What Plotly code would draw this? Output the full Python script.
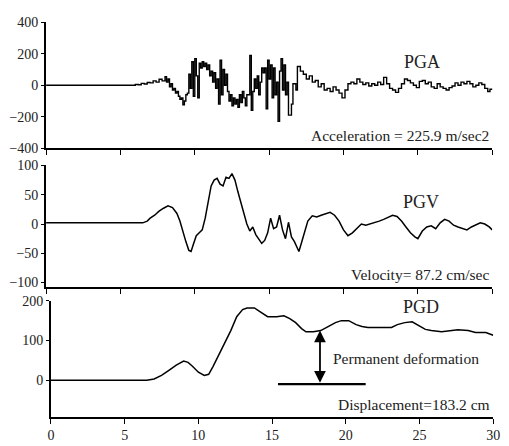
import plotly.graph_objects as go

# ---------------- data ----------------
acc_t = [0, 5.8, 6.0, 6.2, 6.4, 6.6, 6.8, 7.0, 7.2, 7.4, 7.6, 7.8, 8.0, 8.1, 8.2, 8.3, 8.4, 8.5, 8.6, 8.7,
         8.8, 8.9, 9.0, 9.1, 9.2, 9.3, 9.4, 9.5, 9.6, 9.7, 9.8, 9.9, 10.0, 10.1, 10.2, 10.3, 10.4, 10.5,
         10.6, 10.7, 10.8, 10.9, 11.0, 11.1, 11.2, 11.3, 11.4, 11.5, 11.6, 11.7, 11.8, 11.9, 12.0, 12.1,
         12.2, 12.3, 12.4, 12.5, 12.6, 12.7, 12.8, 12.9, 13.0, 13.1, 13.2, 13.3, 13.4, 13.5, 13.7, 13.8,
         13.9, 14.0, 14.1, 14.2, 14.3, 14.4, 14.5, 14.6, 14.7, 14.8, 14.9, 15.0, 15.1, 15.2, 15.3, 15.4,
         15.5, 15.6, 15.7, 15.8, 15.9, 16.0, 16.1, 16.2, 16.3, 16.5, 16.6, 16.8, 16.9, 17.1, 17.3, 17.5,
         17.7, 17.9, 18.1, 18.3, 18.5, 18.7, 18.9, 19.1, 19.3, 19.5, 19.7, 19.9, 20.1, 20.3, 20.5, 20.7,
         20.9, 21.1, 21.3, 21.5, 21.7, 21.9, 22.1, 22.3, 22.5, 22.7, 22.9, 23.1, 23.3, 23.5, 23.7, 23.9,
         24.1, 24.3, 24.5, 24.7, 24.9, 25.1, 25.3, 25.5, 25.7, 25.9, 26.1, 26.3, 26.5, 26.7, 26.9, 27.1,
         27.3, 27.5, 27.7, 27.9, 28.1, 28.3, 28.5, 28.7, 28.9, 29.1, 29.3, 29.5, 29.7, 29.85, 30.0]
acc_v = [0, 0, 5, 3, 12, 8, 18, 15, 28, 20, 38, 28, 55, 20, 40, -10, 10, -30, -20, -50,
         -40, -70, -90, -80, -125, -100, -60, -50, 70, -20, 150, -70, 170, 60, -80, 140, 110, 150,
         120, 140, 100, 130, 60, 90, 20, 80, -20, 40, -120, 160, -60, 100, 0, 70,
         -40, -100, -60, -130, -80, -120, -90, -140, -60, -110, -40, -80, -130, -60, 190, -160,
         -40, 40, -20, 60, -60, 20, 110, 80, 110, -150, 160, 40, 130, -80, 110, -60,
         20, -230, 90, 170, -30, 130, -60, 20, -190, -120, 10, -30, 120, 90, 70, 40,
         60, 20, 30, -10, 10, -30, -20, -40, -10, -30, -50, -80, -30, 10, 20, 10,
         40, 20, 5, 15, -5, 10, 0, 20, 5, 50, 10, -20, -30, -45, -20, 10,
         40, 30, 15, 0, -15, 25, 30, 10, 20, -10, -20, 10, -10, -20, -30, -15,
         -5, 15, 0, 20, 10, 25, 10, -10, 0, 15, 5, -20, -40, -25, -30]

vel_t = [0, 6.5, 6.8, 7.0, 7.3, 7.6, 7.9, 8.2, 8.5, 8.8, 9.0, 9.2, 9.4, 9.6, 9.75, 9.9, 10.1, 10.3,
         10.5, 10.7, 10.9, 11.1, 11.3, 11.5, 11.7, 11.9, 12.1, 12.3, 12.5, 12.7, 12.9, 13.1, 13.3,
         13.5, 13.7, 13.9, 14.1, 14.3, 14.5, 14.7, 14.9, 15.1, 15.3, 15.5, 15.7, 15.9, 16.1, 16.3,
         16.5, 16.7, 16.9, 17.0, 17.2, 17.4, 17.6, 17.9, 18.2, 18.5, 18.8, 19.1, 19.4, 19.7, 20.0,
         20.3, 20.6, 20.9, 21.2, 21.5, 21.8, 22.1, 22.4, 22.7, 23.0, 23.3, 23.6, 23.9, 24.2, 24.5,
         24.8, 25.0, 25.3, 25.6, 25.9, 26.2, 26.5, 26.8, 27.1, 27.4, 27.7, 28.0, 28.3, 28.6, 28.9,
         29.2, 29.5, 29.8, 30.0]
vel_v = [2, 2, 5, 10, 15, 22, 27, 31, 28, 18, 5, -15, -30, -45, -47, -35, -20, -15,
         -10, 10, 40, 65, 75, 78, 68, 65, 80, 78, 86, 75, 55, 35, 15,
         0, -12, -5, -18, -25, -33, -28, -15, 10, -8, -5, 15, -10, -25, 3,
         -22, -30, -42, -47, -30, -10, 5, 14, 12, 15, 18, 20, 15, 5, -10,
         -20, -15, -8, 0, -2, 0, 3, 5, 8, 12, 15, 13, 5, -5, -15,
         -22, -25, -12, -5, -3, -8, 2, 8, 5, -2, -5, -8, -10, -5, -2,
         2, 0, -5, -10]

dis_t = [0, 6.5, 7.0, 7.5, 8.0, 8.5, 9.0, 9.3, 9.6, 10.0, 10.4, 10.7, 11.0, 11.4, 11.8, 12.2, 12.6,
         13.0, 13.3, 13.8, 14.2, 14.7, 15.3, 15.8, 16.2, 16.6, 17.0, 17.3, 17.8, 18.3, 18.8, 19.3,
         19.7, 20.2, 20.7, 21.1, 21.5, 22.5, 23.1, 23.5, 24.0, 24.5, 24.9, 25.4, 25.8, 26.5, 27.2,
         27.6, 28.3, 28.8, 29.5, 30.0]
dis_v = [0, 0, 3, 12, 25, 38, 48, 45, 35, 20, 12, 15, 35, 65, 95, 125, 160,
         178, 182, 182, 172, 160, 160, 162, 155, 145, 130, 122, 122, 125, 135, 145,
         150, 150, 140, 135, 133, 133, 133, 140, 145, 147, 138, 128, 125, 122, 125,
         127, 125, 120, 120, 113]

x_ticks = [0, 5, 10, 15, 20, 25, 30]
acc_ticks = [400, 200, 0, -200, -400]
vel_ticks = [100, 50, 0, -50, -100]
dis_ticks = [200, 100, 0]

# ---------------- layout helpers ----------------
W, H = 509, 446
def px(x):
    return x / W
def py(y):
    return 1 - y / H

FONT = "Liberation Serif"
line_w = 1.5

fig = go.Figure()
fig.add_trace(go.Scatter(x=acc_t, y=acc_v, mode="lines", line=dict(color="black", width=1.4),
                         line_shape="hv", xaxis="x", yaxis="y", showlegend=False))
fig.add_trace(go.Scatter(x=vel_t, y=vel_v, mode="lines", line=dict(color="black", width=line_w),
                         xaxis="x2", yaxis="y2", showlegend=False))
fig.add_trace(go.Scatter(x=dis_t, y=dis_v, mode="lines", line=dict(color="black", width=line_w),
                         xaxis="x3", yaxis="y3", showlegend=False))

def axis(**kw):
    d = dict(showgrid=False, zeroline=False, showline=True, linecolor="black", linewidth=1.8,
             ticks="outside", ticklen=5, tickwidth=1.3, tickcolor="black",
             tickfont=dict(family=FONT, size=14, color="#222"))
    d.update(kw)
    return d

fig.update_layout(
    width=W, height=H,
    margin=dict(l=0, r=0, t=0, b=0),
    paper_bgcolor="white", plot_bgcolor="white",
    xaxis=axis(domain=[px(43), px(499)], anchor="y", range=[0, 30], tickvals=x_ticks, showticklabels=False),
    yaxis=axis(domain=[py(146), py(16)], anchor="x", range=[-400, 400], tickvals=acc_ticks, ticklen=3),
    xaxis2=axis(domain=[px(43), px(499)], anchor="y2", range=[0, 30], tickvals=x_ticks, showticklabels=False),
    yaxis2=axis(domain=[py(290), py(164)], anchor="x2", range=[-108, 100], tickvals=vel_ticks, ticklen=3),
    xaxis3=axis(domain=[px(48), px(500)], anchor="y3", range=[0, 30], tickvals=x_ticks),
    yaxis3=axis(domain=[py(424), py(304)], anchor="x3", range=[-92, 200], tickvals=dis_ticks, ticklen=3),
)

ann_font = dict(family=FONT, size=15.5, color="#222")
lab_font = dict(family=FONT, size=18, color="#222")
fig.add_annotation(x=25.3, y=150, xref="x", yref="y", text="PGA", showarrow=False, font=lab_font)
fig.add_annotation(x=29.9, y=-318, xref="x", yref="y", text="Acceleration = 225.9 m/sec2",
                   showarrow=False, xanchor="right", font=ann_font)
fig.add_annotation(x=25.2, y=37, xref="x2", yref="y2", text="PGV", showarrow=False, font=lab_font)
fig.add_annotation(x=29.9, y=-86, xref="x2", yref="y2", text="Velocity= 87.2 cm/sec",
                   showarrow=False, xanchor="right", font=ann_font)
fig.add_annotation(x=25.1, y=185, xref="x3", yref="y3", text="PGD", showarrow=False, font=lab_font)
fig.add_annotation(x=29.9, y=-60, xref="x3", yref="y3", text="Displacement=183.2 cm",
                   showarrow=False, xanchor="right", font=ann_font)
fig.add_annotation(x=19.0, y=55, xref="x3", yref="y3", text="Permanent deformation",
                   showarrow=False, xanchor="left", font=ann_font)
# double-headed arrow for permanent deformation
fig.add_annotation(x=18.25, y=125, ax=18.25, ay=-10, xref="x3", yref="y3", axref="x3", ayref="y3",
                   text="", showarrow=True, arrowhead=2, arrowside="end+start", arrowsize=1.3,
                   arrowwidth=1.8, arrowcolor="black")
fig.add_shape(type="line", x0=15.4, x1=21.35, y0=-10, y1=-10, xref="x3", yref="y3",
              line=dict(color="black", width=2.2))

fig.write_html("out.html")
